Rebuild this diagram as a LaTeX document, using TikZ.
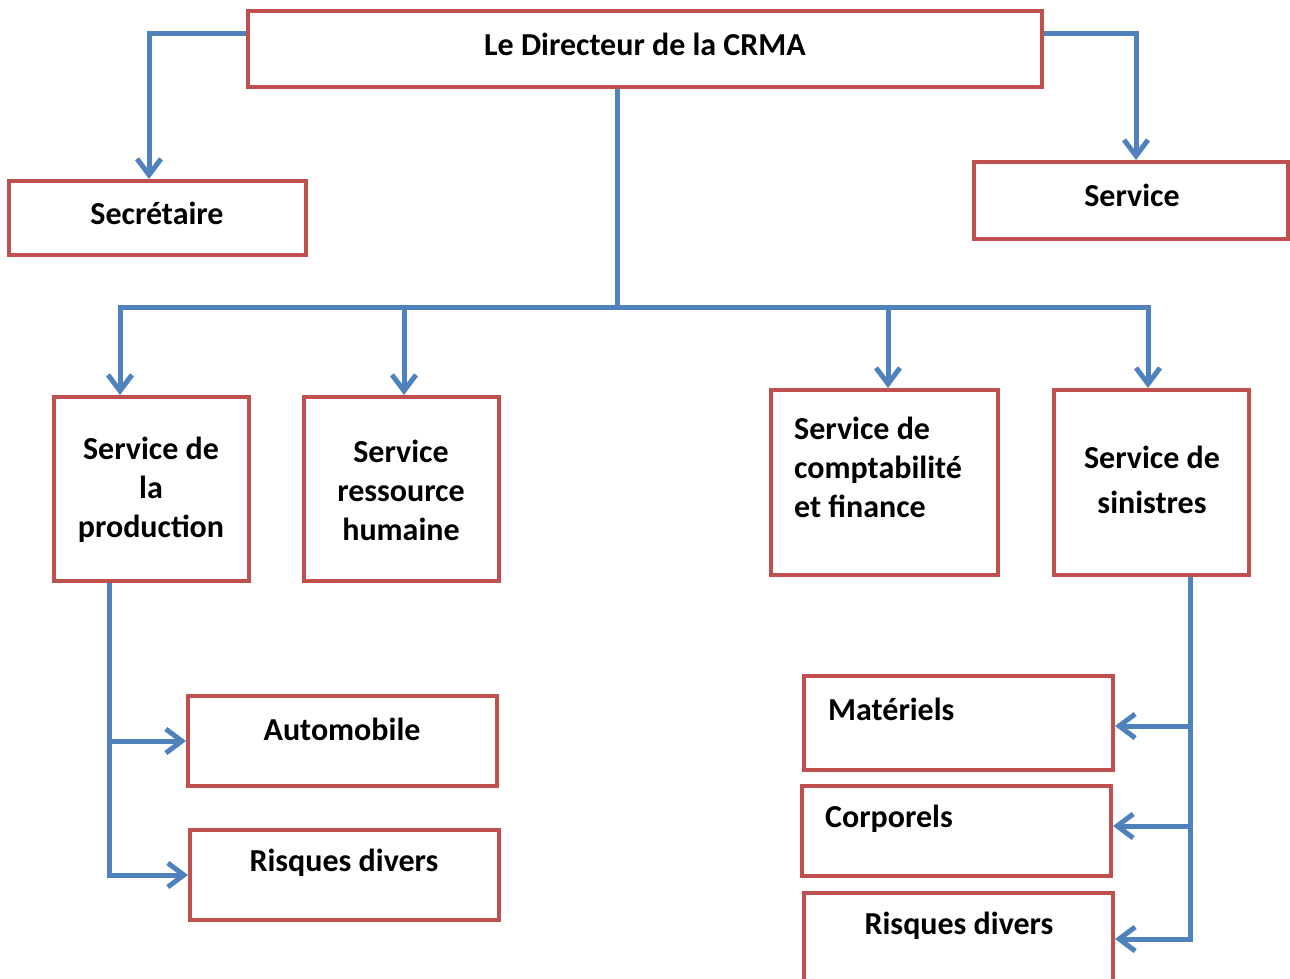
\documentclass[tikz,border=0pt]{standalone}
\usepackage{fontspec}
\setmainfont{Carlito}
\usetikzlibrary{arrows.meta}
\definecolor{boxred}{HTML}{C0504D}
\definecolor{linkblue}{HTML}{4F81BD}
\begin{document}
\begin{tikzpicture}[x=1pt,y=-1pt,
  box/.style={draw=boxred,line width=4pt,rectangle,inner sep=0pt},
  lbl/.style={font=\bfseries\fontsize{32}{39}\selectfont,inner sep=0pt,align=center},
  wire/.style={draw=linkblue,line width=5pt},
  link/.style={wire,-{Straight Barb[length=16pt,width=24pt]}}
]
\useasboundingbox (0,0) rectangle (1290,979);
% boxes
\node[box,minimum width=794pt,minimum height=76pt] (dir) at (645,49) {};
\node[box,minimum width=297pt,minimum height=74pt] (sec) at (157.5,218) {};
\node[box,minimum width=314pt,minimum height=77pt] (serv) at (1131,200.5) {};
\node[box,minimum width=195pt,minimum height=184pt] (prod) at (151.5,489) {};
\node[box,minimum width=195pt,minimum height=184pt] (rh) at (401.5,489) {};
\node[box,minimum width=227pt,minimum height=185pt] (comp) at (884.5,482.5) {};
\node[box,minimum width=195pt,minimum height=185pt] (sin) at (1151.5,482.5) {};
\node[box,minimum width=309pt,minimum height=90pt] (auto) at (342.5,741) {};
\node[box,minimum width=309pt,minimum height=90pt] (rl) at (344.5,875) {};
\node[box,minimum width=309pt,minimum height=94pt] (mat) at (958.5,723) {};
\node[box,minimum width=309pt,minimum height=90pt] (corp) at (956.5,831) {};
\node[box,minimum width=309pt,minimum height=92pt] (rr) at (958.5,939) {};
% texts
\node[lbl] (dirT) at (645,44) {Le Directeur de la CRMA};
\node[lbl] (secT) at (157,213) {Secrétaire};
\node[lbl] (servT) at (1132,195) {Service};
\node[lbl] (prodT) at (151,490) {Service de\\la\\production};
\node[lbl] (rhT) at (401,490) {Service\\ressource\\humaine};
\node[lbl,align=left,anchor=west] (compT) at (794,467) {Service de\\comptabilité\\et finance};
\node[lbl] (sinT) at (1152,480) {Service de\\[6pt]sinistres};
\node[lbl] (autoT) at (342,729) {Automobile};
\node[lbl] (rlT) at (344,863) {Risques divers};
\node[lbl,anchor=west] (matT) at (828,709) {Matériels};
\node[lbl,anchor=west] (corpT) at (825,819) {Corporels};
\node[lbl] (rrT) at (959,926) {Risques divers};
% connectors
\coordinate (bus) at (617,307);
\draw[link] ([yshift=-25pt]dir.north west) -| ([xshift=142pt]sec.north west);
\draw[link] ([yshift=-25pt]dir.north east) -| ([xshift=164pt]serv.north west);
\draw[wire] ([xshift=-28pt]dir.south) -- (bus);
\draw[link] (bus) -| ([xshift=68pt]prod.north west);
\draw[link] (bus) -| ([xshift=96pt]sin.north west);
\draw[link] ([xshift=102pt]rh.north west |- bus) -- ([xshift=102pt]rh.north west);
\draw[link] ([xshift=119pt]comp.north west |- bus) -- ([xshift=119pt]comp.north west);
\draw[link] ([xshift=57pt]prod.south west) |- (rl.west);
\draw[link] ([xshift=57pt]prod.south west |- auto.west) -- (auto.west);
\draw[link] ([xshift=138pt]sin.south west) |- (rr.east);
\draw[link] ([xshift=138pt]sin.south west |- mat.east) ++(0,3) -- ([yshift=-3pt]mat.east);
\draw[link] ([xshift=138pt]sin.south west |- corp.east) ++(0,-5) -- ([yshift=5pt]corp.east);
\end{tikzpicture}
\end{document}
